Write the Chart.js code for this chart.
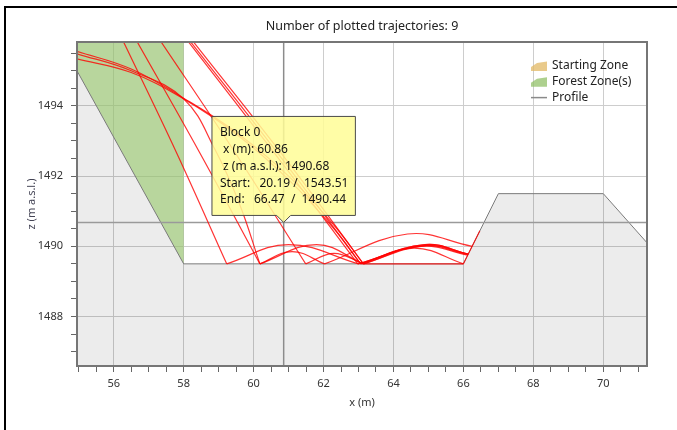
<!DOCTYPE html>
<html>
<head>
<meta charset="utf-8">
<script src="https://cdn.jsdelivr.net/npm/chart.js@4.4.0/dist/chart.umd.min.js"></script>
<style>
  html, body { margin: 0; padding: 0; background: #fff; }
  #wrap { position: relative; width: 677px; height: 430px; }
  #frameTop { position: absolute; left: 4px; top: 6px; width: 673px; height: 2px; background: #000; }
  #frameLeft { position: absolute; left: 4px; top: 6px; width: 2px; height: 424px; background: #000; }
</style>
</head>
<body>
<div id="wrap">
  <canvas id="chart" width="677" height="430"></canvas>
  <div id="frameTop"></div>
  <div id="frameLeft"></div>
</div>
<script>
// axis limits (m)
const xLimits = [54.95, 71.25];
const zLimits = [1486.59, 1495.82];

// terrain profile
const profileX = [54.95, 58, 66, 67, 70, 71.25];
const profileZ = [1495.0, 1489.5, 1489.5, 1491.5, 1491.5, 1490.1];

// forest zone outline
const forestX = [54.95, 58, 58, 54.95];
const forestZ = [1495.0, 1489.5, 1495.82, 1495.82];

// trajectories, one array per block: flight legs of [x, z] points
const block0 = [
  [[57.27, 1495.95], [59.45, 1492.7], [61.49, 1489.5]],
  [[61.49, 1489.5], [62.3, 1489.8], [63.14, 1489.5]],
  [[63.14, 1489.5], [66.0, 1489.5]],
  [[66.0, 1489.5], [66.47, 1490.44]]
];
const block1 = [
  [[56.22, 1495.95], [57.78, 1492.7], [59.23, 1489.5]],
  [[59.23, 1489.5], [61.0, 1490.05], [63.0, 1489.5]],
  [[63.0, 1489.5], [64.9, 1490.05], [66.14, 1489.78]]
];
const block2 = [
  [[56.6, 1495.95], [58.44, 1492.7], [60.18, 1489.5]],
  [[60.18, 1489.5], [61.1, 1489.85], [62.03, 1489.5]],
  [[62.03, 1489.5], [64.4, 1490.35], [66.25, 1490.0]]
];
const block3 = [
  [[58.04, 1495.95], [60.87, 1492.3], [62.98, 1489.5]],
  [[62.98, 1489.5], [64.8, 1490.0], [66.12, 1489.75]]
];
const block4 = [
  [[58.1, 1495.95], [60.96, 1492.3], [63.06, 1489.5]],
  [[63.06, 1489.5], [64.6, 1489.95], [66.0, 1489.5]]
];
const block5 = [
  [[58.18, 1495.95], [61.06, 1492.3], [63.14, 1489.5]],
  [[63.14, 1489.5], [64.9, 1490.02], [66.14, 1489.78]]
];
const block6 = [
  [[54.9, 1495.57], [56.5, 1495.05], [58.0, 1494.22], [59.5, 1493.25], [61.0, 1492.0], [62.3, 1490.6], [63.14, 1489.5]],
  [[63.14, 1489.5], [64.85, 1490.02], [66.13, 1489.76]]
];
const block7 = [
  [[54.9, 1495.35], [56.5, 1494.95], [58.0, 1494.2], [59.5, 1493.2], [61.0, 1491.9], [62.3, 1490.5], [63.06, 1489.5]],
  [[63.06, 1489.5], [64.9, 1490.05], [66.14, 1489.78]]
];
const block8 = [
  [[54.9, 1495.5], [56.5, 1495.0], [58.0, 1494.2], [58.9, 1492.75], [59.6, 1491.2], [60.18, 1489.5]],
  [[60.18, 1489.5], [61.8, 1490.05], [63.14, 1489.5]]
];
const blocks = [block0, block1, block2, block3, block4, block5, block6, block7, block8];

// hovered point shown in the tooltip
const cursorX = [60.86];
const cursorZ = [1490.68];
const blockStart = [20.19, 1543.51];
const blockEnd = [66.47, 1490.44];

const legendLabels = ['Starting Zone', 'Forest Zone(s)', 'Profile'];

const FONT = '"Noto Sans", "Open Sans", sans-serif';

function toPoints(xs, zs) {
  return xs.map((x, i) => ({x: x, y: zs[i]}));
}

// legs joined with a gap so every impact keeps a sharp corner
function legsToPoints(legs) {
  const pts = [];
  legs.forEach((leg, i) => {
    if (i > 0) pts.push({x: leg[0][0], y: null});
    leg.forEach(p => pts.push({x: p[0], y: p[1]}));
  });
  return pts;
}

function isMajor(v) {
  return Math.abs(v / 2 - Math.round(v / 2)) < 1e-6;
}

const datasets = [];

blocks.forEach((legs, i) => {
  datasets.push({
    label: 'Block ' + i,
    data: legsToPoints(legs),
    borderColor: 'rgba(255, 0, 0, 0.8)',
    borderWidth: 1.2,
    tension: 0.4,
    pointRadius: 0,
    fill: false,
    order: 1
  });
});

datasets.push({
  label: 'Forest Zone(s)',
  data: toPoints(forestX, forestZ),
  borderWidth: 0,
  borderColor: 'rgba(0,0,0,0)',
  backgroundColor: 'rgba(146, 192, 104, 0.65)',
  fill: 'shape',
  pointRadius: 0,
  tension: 0,
  order: 9
});

datasets.push({
  label: 'Profile',
  data: toPoints(profileX, profileZ),
  borderColor: '#7a7a7a',
  borderWidth: 1,
  backgroundColor: 'rgba(0, 0, 0, 0.075)',
  fill: 'start',
  pointRadius: 0,
  tension: 0,
  order: 8
});

datasets.push({
  label: 'cursor-v',
  data: [{x: cursorX[0], y: zLimits[0]}, {x: cursorX[0], y: zLimits[1]}],
  borderColor: '#8c8c8c',
  borderWidth: 1.5,
  pointRadius: 0,
  order: 7
});
datasets.push({
  label: 'cursor-h',
  data: [{x: xLimits[0], y: cursorZ[0]}, {x: xLimits[1], y: cursorZ[0]}],
  borderColor: '#9a9a9a',
  borderWidth: 1.5,
  pointRadius: 0,
  order: 7
});
datasets.push({
  label: 'cursor',
  data: [{x: cursorX[0], y: cursorZ[0]}],
  showLine: false,
  pointRadius: 0,
  order: 0
});
const cursorIndex = datasets.length - 1;

const zoneLegend = {
  id: 'zoneLegend',
  afterDatasetsDraw(chart) {
    const {ctx, chartArea} = chart;
    ctx.save();
    ctx.strokeStyle = '#767676';
    ctx.lineWidth = 2;
    ctx.strokeRect(chartArea.left, chartArea.top, chartArea.width, chartArea.height);

    const x0 = chartArea.right - 116;
    const y0 = chartArea.top + 24;
    const fills = ['rgba(226, 184, 100, 0.75)', 'rgba(146, 192, 104, 0.75)'];
    ctx.font = '12px ' + FONT;
    ctx.textBaseline = 'middle';
    ctx.textAlign = 'left';
    legendLabels.forEach((text, i) => {
      const y = y0 + i * 15.8;
      if (i < 2) {
        ctx.fillStyle = fills[i];
        ctx.beginPath();
        ctx.moveTo(x0, y + 5);
        ctx.lineTo(x0, y + 1);
        ctx.lineTo(x0 + 6, y - 3);
        ctx.lineTo(x0 + 16, y - 4.5);
        ctx.lineTo(x0 + 16, y + 5);
        ctx.closePath();
        ctx.fill();
      } else {
        ctx.strokeStyle = '#8a8a8a';
        ctx.lineWidth = 1.5;
        ctx.beginPath();
        ctx.moveTo(x0, y);
        ctx.lineTo(x0 + 16, y);
        ctx.stroke();
      }
      ctx.fillStyle = '#222';
      ctx.fillText(text, x0 + 21, y);
    });
    ctx.restore();
  }
};

const tickFont = {family: FONT, size: 11};

const chart = new Chart(document.getElementById('chart'), {
  type: 'line',
  data: {datasets},
  plugins: [zoneLegend],
  options: {
    responsive: false,
    animation: false,
    events: [],
    layout: {padding: {left: 0, right: 30, top: 0, bottom: 0}},
    plugins: {
      legend: {display: false},
      title: {
        display: true,
        fullSize: false,
        text: 'Number of plotted trajectories: 9',
        color: '#222',
        font: {family: FONT, size: 12.5, weight: 'normal'},
        padding: {top: 19, bottom: 8}
      },
      tooltip: {
        enabled: true,
        backgroundColor: 'rgba(255, 253, 150, 0.85)',
        borderColor: '#4a4a4a',
        borderWidth: 1,
        cornerRadius: 0,
        caretSize: 7,
        caretPadding: 0,
        xAlign: 'center',
        yAlign: 'bottom',
        displayColors: false,
        titleColor: '#111',
        bodyColor: '#111',
        titleFont: {family: FONT, size: 12, weight: 'normal', lineHeight: 1.4},
        bodyFont: {family: FONT, size: 12, lineHeight: 1.4},
        titleMarginBottom: 0,
        titleSpacing: 0,
        bodySpacing: 0,
        padding: {top: 8, bottom: 7, left: 8, right: 7},
        callbacks: {
          title: () => 'Block 0',
          label: () => [
            ' x (m): ' + cursorX[0].toFixed(2),
            ' z (m a.s.l.): ' + cursorZ[0].toFixed(2),
            'Start:   ' + blockStart[0].toFixed(2) + ' /  ' + blockStart[1].toFixed(2),
            'End:   ' + blockEnd[0].toFixed(2) + '  /  ' + blockEnd[1].toFixed(2)
          ]
        }
      }
    },
    scales: {
      x: {
        type: 'linear',
        min: xLimits[0],
        max: xLimits[1],
        afterFit: (scale) => { scale.height = 64; },
        border: {display: false},
        grid: {
          color: (ctx) => (ctx.tick && isMajor(ctx.tick.value)) ? '#cdcdcd' : 'rgba(0,0,0,0)',
          tickColor: '#666',
          tickLength: 6
        },
        ticks: {
          stepSize: 0.5,
          autoSkip: false,
          includeBounds: false,
          maxRotation: 0,
          padding: 5,
          color: '#333',
          font: tickFont,
          callback: (v) => isMajor(v) ? String(v) : ''
        },
        title: {
          display: true,
          text: 'x (m)',
          color: '#333',
          font: {family: FONT, size: 11},
          padding: {top: 0, bottom: 21}
        }
      },
      y: {
        type: 'linear',
        min: zLimits[0],
        max: zLimits[1],
        afterFit: (scale) => { scale.width = 77; },
        border: {display: false},
        grid: {
          color: (ctx) => (ctx.tick && isMajor(ctx.tick.value)) ? '#cdcdcd' : 'rgba(0,0,0,0)',
          tickColor: '#666',
          tickLength: 6
        },
        ticks: {
          stepSize: 0.5,
          autoSkip: false,
          includeBounds: false,
          padding: 8,
          color: '#333',
          font: tickFont,
          callback: (v) => isMajor(v) ? String(v) : ''
        },
        title: {
          display: true,
          text: 'z (m a.s.l.)',
          color: '#445',
          font: {family: FONT, size: 11},
          padding: {top: 25, bottom: 0}
        }
      }
    }
  }
});

chart.tooltip.setActiveElements([{datasetIndex: cursorIndex, index: 0}], {x: 0, y: 0});
chart.draw();
</script>
</body>
</html>
